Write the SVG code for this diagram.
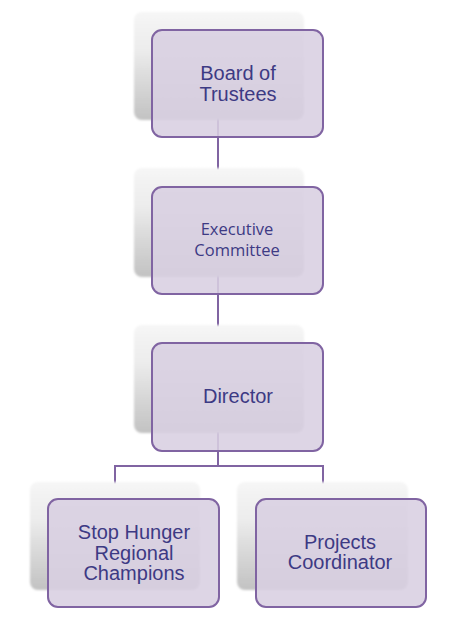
<svg xmlns="http://www.w3.org/2000/svg" width="466" height="623" viewBox="0 0 466 623">
<defs>
<linearGradient id="sg" x1="0" y1="0" x2="0" y2="1">
<stop offset="0" stop-color="#f6f6f6"/>
<stop offset="0.35" stop-color="#ececec"/>
<stop offset="1" stop-color="#c2c2c2"/>
</linearGradient>
<filter id="blur" x="-10%" y="-10%" width="120%" height="120%">
<feGaussianBlur stdDeviation="0.8"/>
</filter>
</defs>
<style>
.sh{fill:url(#sg);filter:url(#blur)}
.bx{fill:#d8cfe1;fill-opacity:0.88;stroke:#8064a2;stroke-width:2}
.t{font-family:"Liberation Sans",Arial,sans-serif;font-size:20px;fill:#3d3a84;text-anchor:middle}
.tc{font-family:"Open Sans","Liberation Sans",sans-serif;font-size:16.5px;fill:#3d3a84;text-anchor:middle}
.ln{stroke:#8064a2;stroke-width:2;fill:none}
</style>
<rect width="466" height="623" fill="#ffffff"/>
<g id="connectors">
<line class="ln" x1="218" y1="118" x2="218" y2="190"/>
<line class="ln" x1="218" y1="275" x2="218" y2="346"/>
<polyline class="ln" points="218,432 218,466 115,466 115,484"/>
<polyline class="ln" points="218,466 323,466 323,484"/>
</g>
<g id="board">
<rect class="sh" x="134" y="12" width="170" height="108" rx="8"/>
<rect class="bx" x="152" y="30" width="171" height="107" rx="10"/>
<text class="t" x="238" y="80">Board of</text>
<text class="t" x="238" y="101">Trustees</text>
</g>
<g id="executive">
<rect class="sh" x="134" y="168" width="170" height="109" rx="8"/>
<rect class="bx" x="152" y="187" width="171" height="107" rx="10"/>
<text class="tc" x="237" y="235">Executive</text>
<text class="tc" x="237" y="256">Committee</text>
</g>
<g id="director">
<rect class="sh" x="134" y="325" width="170" height="108" rx="8"/>
<rect class="bx" x="152" y="343" width="171" height="108" rx="10"/>
<text class="t" x="238" y="403">Director</text>
</g>
<g id="champions">
<rect class="sh" x="30" y="482" width="170" height="108" rx="8"/>
<rect class="bx" x="48" y="499" width="171" height="108" rx="10"/>
<text class="t" x="134" y="539">Stop Hunger</text>
<text class="t" x="134" y="560">Regional</text>
<text class="t" x="134" y="580">Champions</text>
</g>
<g id="coordinator">
<rect class="sh" x="237" y="482" width="171" height="108" rx="8"/>
<rect class="bx" x="256" y="499" width="170" height="108" rx="10"/>
<text class="t" x="340" y="549">Projects</text>
<text class="t" x="340" y="569">Coordinator</text>
</g>
</svg>
